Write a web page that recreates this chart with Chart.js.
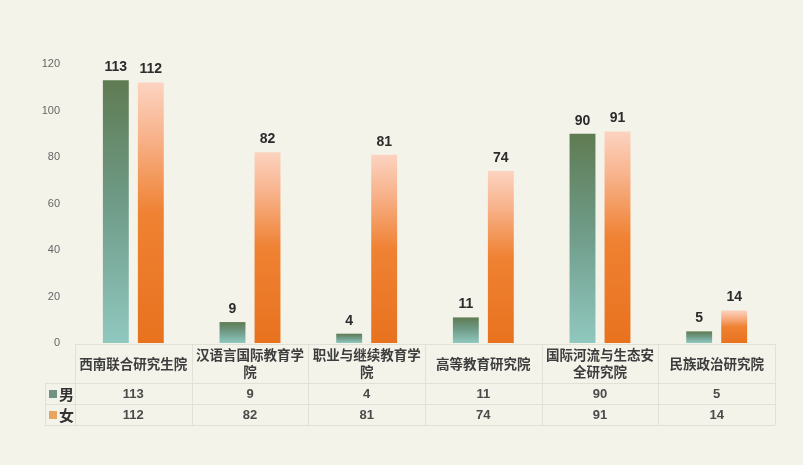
<!DOCTYPE html>
<html><head><meta charset="utf-8">
<script src="https://cdn.jsdelivr.net/npm/chart.js@4/dist/chart.umd.min.js"></script>
<style>
html,body{margin:0;padding:0;background:#f4f3ea;}
#wrap{width:803px;height:465px;}
</style></head>
<body><div id="wrap"><canvas id="c" width="803" height="465"></canvas></div>
<script>
const categories = [
  ['西南联合研究生院'],
  ['汉语言国际教育学','院'],
  ['职业与继续教育学','院'],
  ['高等教育研究院'],
  ['国际河流与生态安','全研究院'],
  ['民族政治研究院']
];
const seriesNames = ['男','女'];
const male = [113, 9, 4, 11, 90, 5];
const female = [112, 82, 81, 74, 91, 14];
const yTicks = [0, 20, 40, 60, 80, 100, 120];

const CJK = '"Noto Sans CJK SC", "Liberation Sans", sans-serif';
const NUM = '"Liberation Sans", Arial, sans-serif';

function barGradient(ctx, stops, fallback) {
  const chart = ctx.chart;
  if (ctx.type !== 'data' || !chart.chartArea) return fallback;
  const y = chart.scales.y;
  const top = y.getPixelForValue(ctx.parsed ? ctx.parsed.y : ctx.raw);
  const bot = y.getPixelForValue(0);
  if (!isFinite(top) || !isFinite(bot) || top === bot) return fallback;
  const g = chart.ctx.createLinearGradient(0, top, 0, bot);
  stops.forEach(s => g.addColorStop(s[0], s[1]));
  return g;
}
const maleStops = [[0,'#5f7b52'],[0.45,'#6e9a86'],[1,'#90c8bf']];
const femaleStops = [[0,'#fcd3c0'],[0.2,'#f8b48e'],[0.5,'#ef8233'],[1,'#e8721e']];

const tablePlugin = {
  id: 'tablePlugin',
  afterDatasetsDraw(chart) {
    const c = chart.ctx;
    c.save();
    c.font = 'bold 14px ' + NUM;
    c.fillStyle = '#2b2b2b';
    c.textAlign = 'center';
    c.textBaseline = 'bottom';
    chart.data.datasets.forEach((ds, di) => {
      const meta = chart.getDatasetMeta(di);
      meta.data.forEach((el, i) => {
        c.fillText(String(ds.data[i]), el.x, el.y - 6);
      });
    });
    c.restore();
  },
  afterDraw(chart) {
    const c = chart.ctx;
    const area = chart.chartArea;
    const xs = chart.scales.x;
    const n = categories.length;
    const cw = (area.right - area.left) / n;
    const top = area.bottom + 1;
    const hdrH = 39, rowH = 21;
    const r1 = top + hdrH, r2 = r1 + rowH, r3 = r2 + rowH;
    const legL = area.left - 30;
    c.save();
    c.strokeStyle = '#e2e0d7';
    c.lineWidth = 1;
    c.beginPath();
    c.moveTo(area.left, top + 0.5); c.lineTo(area.right, top + 0.5);
    c.moveTo(legL, r1 + 0.5); c.lineTo(area.right, r1 + 0.5);
    c.moveTo(legL, r2 + 0.5); c.lineTo(area.right, r2 + 0.5);
    c.moveTo(legL, r3 + 0.5); c.lineTo(area.right, r3 + 0.5);
    for (let i = 0; i <= n; i++) {
      const x = Math.round(area.left + i * cw) + 0.5;
      c.moveTo(x, top); c.lineTo(x, r3);
    }
    c.moveTo(legL + 0.5, r1); c.lineTo(legL + 0.5, r3);
    c.stroke();
    c.textAlign = 'center';
    c.textBaseline = 'middle';
    c.fillStyle = '#3d3d3d';
    c.font = 'bold 13.5px ' + CJK;
    categories.forEach((lines, i) => {
      const x = xs.getPixelForValue(i);
      const lh = 17;
      const cy = top + hdrH / 2;
      lines.forEach((t, k) => {
        c.fillText(t, x, cy + (k - (lines.length - 1) / 2) * lh);
      });
    });
    c.font = 'bold 13px ' + NUM;
    c.fillStyle = '#4a4a4a';
    [male, female].forEach((arr, ri) => {
      const cy = (ri === 0 ? r1 : r2) + rowH / 2 + 0.5;
      arr.forEach((v, i) => {
        c.fillText(String(v), xs.getPixelForValue(i), cy);
      });
    });
    const keyCols = ['#6f9282', '#e9a462'];
    seriesNames.forEach((nm, ri) => {
      const cy = (ri === 0 ? r1 : r2) + rowH / 2 + 0.5;
      c.fillStyle = keyCols[ri];
      c.fillRect(legL + 4, cy - 4, 8, 8);
      c.fillStyle = '#333';
      c.font = 'bold 15px ' + CJK;
      c.textAlign = 'left';
      c.fillText(nm, legL + 14, cy);
    });
    c.restore();
  }
};

new Chart(document.getElementById('c'), {
  type: 'bar',
  data: {
    labels: categories.map(l => l.join('')),
    datasets: [
      { label: seriesNames[0], data: male,
        backgroundColor: ctx => barGradient(ctx, maleStops, '#6e9a86') },
      { label: seriesNames[1], data: female,
        backgroundColor: ctx => barGradient(ctx, femaleStops, '#ef8233') }
    ]
  },
  options: {
    responsive: false,
    animation: false,
    devicePixelRatio: 1,
    categoryPercentage: 0.6,
    barPercentage: 0.74,
    layout: { padding: { top: 64, bottom: 122, right: 28, left: 0 } },
    plugins: { legend: { display: false }, tooltip: { enabled: false } },
    scales: {
      x: { display: false, grid: { display: false } },
      y: {
        min: 0, max: 120,
        afterFit: s => { s.width = 75; },
        afterBuildTicks: s => { s.ticks = yTicks.map(v => ({ value: v })); },
        grid: { display: false },
        border: { display: false },
        ticks: { padding: 7, color: '#666', font: { family: NUM, size: 11 } }
      }
    }
  },
  plugins: [tablePlugin]
});
</script>
</body></html>
